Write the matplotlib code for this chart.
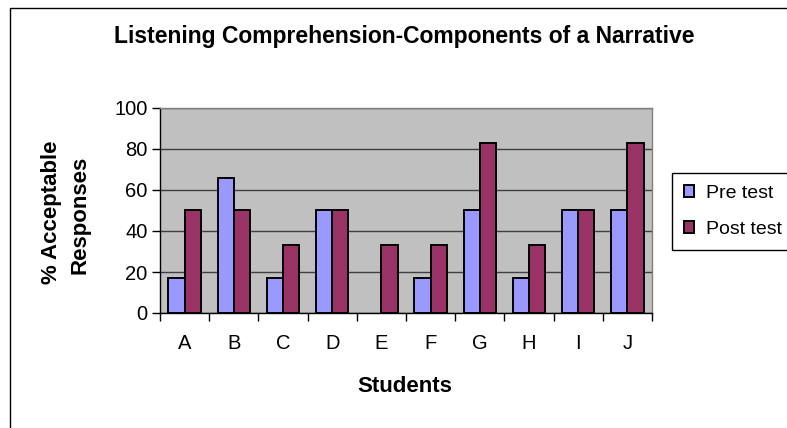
import matplotlib
matplotlib.use("Agg")
import matplotlib.pyplot as plt
import numpy as np
from matplotlib.patches import Rectangle

plt.rcParams['font.family'] = ['Liberation Sans', 'DejaVu Sans']

students = ["A", "B", "C", "D", "E", "F", "G", "H", "I", "J"]
pre_test = [17, 66, 17, 50, 0, 17, 50, 17, 50, 50]
post_test = [50, 50, 33, 50, 33, 33, 83, 33, 50, 83]
y_ticks = [0, 20, 40, 60, 80, 100]

W, H = 787, 428
fig = plt.figure(figsize=(W / 100, H / 100), dpi=100)

# outer chart border (runs off the right and bottom edges)
fig.patches.append(Rectangle((10 / W, -0.1), 1.2, 1 - 8 / H + 0.1,
                             transform=fig.transFigure, fill=False,
                             edgecolor='black', linewidth=1.0))

ax = fig.add_axes([160 / W, 1 - 313 / H, (652 - 160) / W, (313 - 108) / H])
ax.set_facecolor('#C0C0C0')

x = np.arange(len(students))
bw = 0.33


def edges(values):
    return ['none' if v == 0 else 'black' for v in values]


ax.bar(x - bw / 2, pre_test, width=bw, color='#9999FF',
       edgecolor=edges(pre_test), linewidth=1.4, label='Pre test', zorder=3)
ax.bar(x + bw / 2, post_test, width=bw, color='#993366',
       edgecolor=edges(post_test), linewidth=1.4, label='Post test', zorder=3)

ax.set_xlim(-0.5, len(students) - 0.5)
ax.set_ylim(0, 100)
ax.set_yticks(y_ticks)
ax.set_yticklabels([str(v) for v in y_ticks], fontsize=14.5)
ax.yaxis.grid(True, color='#404040', linewidth=1.0, zorder=1)
ax.set_axisbelow(True)

# category labels centred, tick marks between categories
ax.set_xticks(x)
ax.set_xticklabels(students, fontsize=14.5)
ax.tick_params(axis='x', length=0, pad=15)
ax.set_xticks(np.arange(-0.5, len(students), 1.0), minor=True)
ax.tick_params(axis='x', which='minor', length=6, width=1, color='black',
               direction='out')
ax.tick_params(axis='y', length=6, width=1, color='black', direction='out',
               pad=3)

for side in ('top', 'right'):
    ax.spines[side].set_color('#808080')
    ax.spines[side].set_linewidth(1.0)
for side in ('left', 'bottom'):
    ax.spines[side].set_color('black')
    ax.spines[side].set_linewidth(1.0)

fig.text(404 / W, 1 - 37 / H, 'Listening Comprehension-Components of a Narrative',
         ha='center', va='center', fontsize=16.5, fontweight='bold')
fig.text(405 / W, 1 - 387 / H, 'Students', ha='center', va='center',
         fontsize=16, fontweight='bold')
fig.text(52 / W, 1 - 212 / H, '% Acceptable', ha='center', va='center',
         rotation=90, fontsize=16, fontweight='bold')
fig.text(80 / W, 1 - 215 / H, 'Responses', ha='center', va='center',
         rotation=90, fontsize=16, fontweight='bold')

leg = ax.legend(loc='upper left', bbox_to_anchor=(672 / W, 1 - 173 / H),
                bbox_transform=fig.transFigure, fontsize=14, frameon=True,
                fancybox=False, edgecolor='black', framealpha=1,
                handlelength=0.55, handleheight=0.55, handletextpad=0.6,
                borderpad=0.6, labelspacing=1.0, borderaxespad=0)
leg.get_frame().set_linewidth(1.0)

fig.savefig('out.png', dpi=100)
